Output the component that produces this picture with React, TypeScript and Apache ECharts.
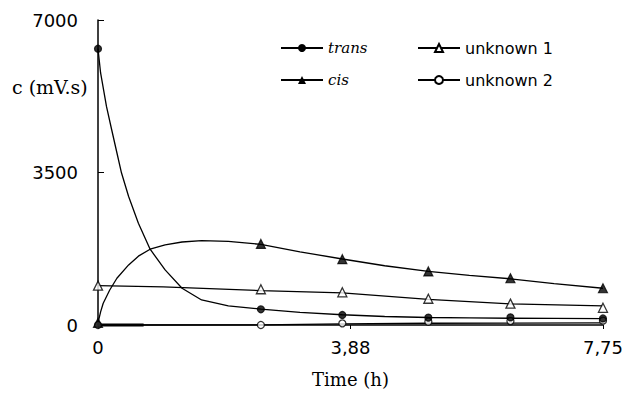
import React, { useEffect, useRef } from "react";
import * as echarts from "echarts";

// ---- tick labels ----
const xTickValues = [0, 3.875, 7.75];
const xTickLabels = ["0", "3,88", "7,75"];
const yTickValues = [0, 3500, 7000];
const yTickLabels = ["0", "3500", "7000"];

// ---- series names ----
const legendLeftNames = ["trans", "cis"];
const legendRightNames = ["unknown 1", "unknown 2"];

// ---- measured points (time h, c mV.s) ----
const transMeasured = [[0, 6340], [2.5, 361], [3.75, 230], [5.07, 170], [6.33, 175], [7.75, 150]];
const cisMeasured = [[0, 50], [2.5, 1860], [3.75, 1510], [5.07, 1229], [6.33, 1073], [7.75, 843]];
const unknown1Measured = [[0, 903], [2.5, 820], [3.75, 751], [5.07, 602], [6.33, 490], [7.75, 395]];
const unknown2Measured = [[0, 0], [2.5, 0], [3.75, 38], [5.07, 76], [6.33, 90], [7.75, 100]];

// ---- fitted curves ----
const transFit = [[0, 6340], [0.04, 5784], [0.13, 5017], [0.21, 4481], [0.29, 3953], [0.36, 3493], [0.47, 2948], [0.62, 2337], [0.8, 1740], [1.03, 1264], [1.29, 843], [1.59, 575], [2.0, 440], [2.5, 365], [3.1, 290], [3.75, 235], [4.4, 195], [5.07, 172], [5.7, 162], [6.33, 155], [7.0, 150], [7.75, 145]];
const cisFit = [[0, 50], [0.04, 300], [0.08, 500], [0.18, 804], [0.29, 1073], [0.47, 1379], [0.62, 1580], [0.8, 1740], [1.03, 1838], [1.29, 1905], [1.59, 1937], [2.0, 1920], [2.5, 1850], [3.1, 1680], [3.75, 1515], [4.4, 1360], [5.07, 1232], [5.7, 1140], [6.33, 1060], [7.0, 950], [7.75, 843]];
const unknown1Fit = [[0, 903], [1.0, 875], [2.5, 790], [3.75, 735], [5.07, 590], [6.33, 483], [7.75, 437]];
const unknown2Fit = [[0, 0], [2.5, 5], [3.75, 25], [5.07, 40], [6.33, 45], [7.75, 50]];
const unknown2EarlySegment = [[0, 0], [0.7, 0]];

const serifItalic = { fontFamily: "DejaVu Serif", fontStyle: "italic", fontSize: 15, color: "#000", lineHeight: 16 };
const sansText = { fontFamily: "DejaVu Sans", fontSize: 16, color: "#000", lineHeight: 16 };

export default function App() {
  const ref = useRef<HTMLDivElement>(null);
  useEffect(() => {
    document.body.style.margin = "0";
    const chart = echarts.init(ref.current!, null, { renderer: "svg" });
    const lineStyle = { color: "#000", width: 1.3 };
    const fitSeries = (name: string, data: number[][], symbol: string) => ({
      name,
      type: "line",
      data,
      smooth: false,
      symbol,
      showSymbol: false,
      lineStyle,
      itemStyle: { color: "#000" },
      clip: false,
      z: 2,
    });
    const dataSeries = (name: string, data: number[][], symbol: string, size: number) => ({
      name: name + " data",
      type: "scatter",
      data,
      symbol,
      symbolSize: size,
      itemStyle: { color: "#000", borderColor: "#000", borderWidth: 1.2 },
      clip: false,
      z: 3,
    });
    chart.setOption({
      animation: false,
      backgroundColor: "#fff",
      grid: { left: 98, top: 20, width: 505, height: 305, containLabel: false },
      legend: [
        {
          left: 280,
          top: 40,
          padding: 0,
          orient: "vertical",
          itemWidth: 42,
          itemHeight: 10,
          itemGap: 16,
          selectedMode: false,
          data: legendLeftNames.map((n) => ({ name: n, textStyle: serifItalic })),
        },
        {
          left: 417,
          top: 40,
          padding: 0,
          orient: "vertical",
          itemWidth: 42,
          itemHeight: 10,
          itemGap: 16,
          selectedMode: false,
          data: legendRightNames.map((n) => ({ name: n, textStyle: sansText })),
        },
      ],
      xAxis: {
        type: "value",
        min: 0,
        max: 7.75,
        interval: 3.875,
        name: "Time (h)",
        nameLocation: "middle",
        nameGap: 45,
        nameTextStyle: { fontFamily: "DejaVu Serif", fontSize: 18, color: "#000" },
        axisLine: { lineStyle: { color: "#000", width: 1.5 } },
        axisTick: { show: true, length: 4, lineStyle: { color: "#000" } },
        splitLine: { show: false },
        axisLabel: {
          margin: 13,
          fontFamily: "DejaVu Sans",
          fontSize: 18,
          color: "#000",
          showMinLabel: true,
          showMaxLabel: true,
          formatter: (v: number) => {
            let best = 0;
            xTickValues.forEach((t, i) => {
              if (Math.abs(t - v) < Math.abs(xTickValues[best] - v)) best = i;
            });
            return xTickLabels[best];
          },
        },
      },
      yAxis: {
        type: "value",
        min: 0,
        max: 7000,
        interval: 3500,
        axisLine: { show: true, lineStyle: { color: "#000", width: 1.5 } },
        axisTick: { show: true, inside: true, length: 6, lineStyle: { color: "#000" } },
        splitLine: { show: false },
        axisLabel: {
          margin: 20,
          align: "right",
          fontFamily: "DejaVu Sans",
          fontSize: 18,
          color: "#000",
          formatter: (v: number) => {
            const i = yTickValues.indexOf(v);
            return i >= 0 ? yTickLabels[i] : "";
          },
        },
      },
      graphic: [
        {
          type: "text",
          left: 12,
          top: 77,
          style: { text: "c (mV.s)", fontFamily: "DejaVu Serif", fontSize: 19, fill: "#000" },
        },
      ],
      series: [
        fitSeries("trans", transFit, "circle"),
        fitSeries("cis", cisFit, "triangle"),
        fitSeries("unknown 1", unknown1Fit, "emptyTriangle"),
        fitSeries("unknown 2", unknown2Fit, "emptyCircle"),
        {
          name: "unknown 2 early",
          type: "line",
          data: unknown2EarlySegment,
          showSymbol: false,
          symbol: "none",
          lineStyle: { color: "#000", width: 3 },
          clip: false,
          z: 2,
        },
        {
          ...dataSeries("unknown 2", unknown2Measured, "circle", 7),
          itemStyle: { color: "#fff", borderColor: "#000", borderWidth: 1.3 },
        },
        dataSeries("trans", transMeasured, "circle", 7),
        dataSeries("cis", cisMeasured, "triangle", 9),
        {
          ...dataSeries("unknown 1", unknown1Measured, "triangle", 9),
          itemStyle: { color: "#fff", borderColor: "#000", borderWidth: 1.3 },
        },
      ],
    });
    return () => chart.dispose();
  }, []);
  return <div ref={ref} style={{ width: 626, height: 398 }} />;
}
